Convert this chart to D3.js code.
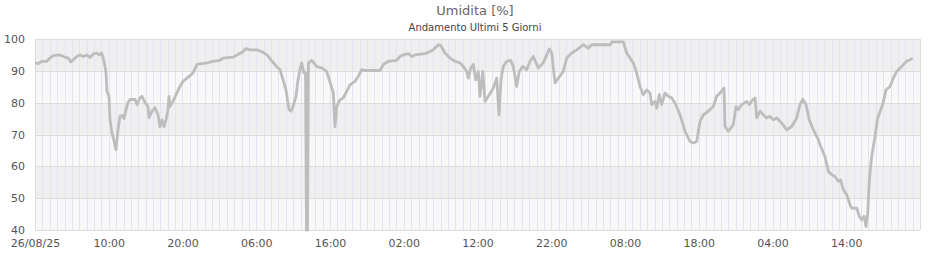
<!DOCTYPE html>
<html><head><meta charset="utf-8">
<script src="https://cdn.jsdelivr.net/npm/d3@7"></script>
<style>body{margin:0;background:#fff}svg{display:block;font-family:"DejaVu Sans",sans-serif}</style>
</head><body><svg id="c" width="940" height="260"></svg>
<script>
const title = "Umidita [%]";
const subtitle = "Andamento Ultimi 5 Giorni";
const startTime = "2025-08-26T00:00:00";
const spanHours = 120;
const yTicks = [40, 50, 60, 70, 80, 90, 100];
// hours since 26/08/25 00:00
const hours = [0,0.45,0.91,1.59,2.03,2.48,3.39,3.84,4.52,4.84,5.19,5.65,6.10,6.55,7.01,7.46,7.91,8.37,8.72,9.04,9.26,9.49,9.63,9.76,10.03,10.17,10.44,10.71,10.98,11.25,11.53,11.80,12.07,12.34,12.61,12.88,13.56,13.83,14.24,14.51,14.92,15.32,15.46,15.86,16.27,16.68,16.95,17.22,17.49,17.76,18.03,18.17,18.31,18.71,19.12,19.66,20.07,20.61,21.42,21.97,22.37,23.32,24.14,25.08,25.49,26.85,27.39,28.2,28.61,29.15,30.1,30.92,31.46,32.14,32.81,33.22,33.63,34.03,34.17,34.44,34.71,34.98,35.39,35.66,35.93,36.16,36.47,36.68,36.81,36.95,37.08,37.52,38.2,38.87,39.55,40.0,40.45,40.68,40.91,41.36,41.8,42.26,42.71,43.39,43.84,44.3,44.75,46.78,47.23,47.9,49.04,49.49,49.94,50.62,51.08,51.53,52.88,53.33,54.01,54.68,55.01,55.59,56.27,56.95,57.63,58.07,58.54,58.75,59.08,59.43,59.76,60.11,60.34,60.71,61.02,61.47,62.14,62.6,62.92,63.19,63.5,63.96,64.5,64.85,65.31,65.67,66.13,66.67,67.12,67.57,68.24,68.92,69.74,70.06,70.51,70.96,71.63,72.09,72.77,73.45,74.35,75.02,75.48,78.0,78.24,79.77,80.23,80.68,81.13,81.59,82.03,82.48,82.94,83.39,83.62,84.07,84.3,84.65,84.97,85.42,85.87,86.33,86.78,87.46,88.14,88.81,89.26,89.72,90.17,90.62,91.29,91.97,92.43,92.88,93.42,93.56,94.01,94.68,95.05,95.36,95.82,96.5,96.85,97.31,97.63,97.86,98.31,98.75,99.21,99.66,100.11,100.57,101.25,101.92,102.6,103.28,103.73,104.1,104.54,104.99,105.53,106.21,106.44,107.12,107.57,108.03,108.47,108.92,109.25,109.6,110.06,110.51,110.74,111.42,111.77,112.09,112.41,112.68,112.91,113.13,113.45,113.9,114.21,114.35,114.94,115.39,115.93,116.38,116.84,117.52,118.19,118.64,119.01];
const humidity = [92.5,92.3,93,93,94,94.8,95,94.5,94,92.8,93.5,94.5,95,94.5,95,94.2,95.3,95.6,95,95.6,94,91.4,89.3,83.5,82,74.6,70.5,68,65.2,71.5,75.7,76,75,77.8,80,81,81,79.4,81.5,82,80,78.8,75.3,77.3,78.4,76.2,72.5,74.6,72.5,74.6,77.8,82,78.8,80.4,82.5,85.1,86.7,87.7,89.3,92,92.2,92.5,93,93.3,94,94.3,95,96,97,96.6,96.6,95.8,95,93,91.2,90.4,87.2,84,82,77.8,77.3,78.8,82,87.2,90.4,92.5,89.3,89.5,40,40,92.5,93.3,91.4,90.9,89.8,86.5,83,72.5,78.8,80.9,81.5,83.5,85.6,86.7,88.3,90.4,90.1,90.1,92,93,93.3,94.5,95,95.4,94.5,95,95.4,95.8,96.6,98.2,98,95.6,94,93,92.5,91.4,89.8,87.7,90.9,92,87.2,89.8,82,89.8,80.4,82,84.6,87.7,76.2,87.2,91.4,93,93.3,91.4,85.1,89.8,91.4,90.4,93,94.5,90.9,92.5,96.9,95.6,86.2,87.7,89.8,94,95.6,96.6,98.2,97.1,98.2,98.2,99.1,99.1,95.6,94,92.5,89.3,85.1,82.5,84,83,79.4,80.4,78.3,82.5,79.4,83,82,81.5,79.9,76.2,71,67.8,67.3,67.8,74.1,76.2,77.3,78.8,82,83,84.6,72.5,71,73.1,78.8,77.8,79.4,80.4,79.4,80.9,81.5,75.2,77.3,76.2,75.2,75.7,74.6,75.2,73.6,71.5,72.5,75.2,79.4,81.1,79.4,74.6,71.5,68.4,66.8,63.1,58.4,57.4,56.8,55.3,55.7,52.7,51.1,48,46.9,46.9,44.3,43.2,44.3,41.1,45.3,55.8,63.1,69.4,74.6,75.7,79.4,84,85.1,87.7,89.8,91.4,93,93.5,94];

const svg = d3.select("#c");
const m = {l: 35, r: 20, t: 39, b: 30};
const W = 940, H = 260;
const t0 = new Date(startTime);
const t1 = new Date(t0.getTime() + spanHours * 3600e3);
const x = d3.scaleTime().domain([t0, t1]).range([m.l, W - m.r]);
const y = d3.scaleLinear().domain([40, 100]).range([H - m.b, m.t]);

const data = hours.map((h, i) => ({t: new Date(t0.getTime() + h * 3600e3), v: humidity[i]}));

// bands
const g = svg.append("g");
for (let i = 0; i < yTicks.length - 1; i++) {
  const lo = yTicks[i], hi = yTicks[i + 1];
  g.append("rect").attr("x", m.l).attr("width", W - m.r - m.l)
    .attr("y", y(hi)).attr("height", y(lo) - y(hi))
    .attr("fill", (i % 2 === 0) ? "#f8f8f9" : "#efefef");
}
// hourly vertical grid
const hrs = d3.timeHour.range(t0, t1);
g.selectAll("line.v").data(hrs.slice(1)).join("line")
  .attr("x1", d => Math.round(x(d)) + 0.5).attr("x2", d => Math.round(x(d)) + 0.5)
  .attr("y1", y(100)).attr("y2", y(40))
  .attr("stroke", "#e3e3f3").attr("stroke-width", 1);
// horizontal grid
g.selectAll("line.h").data(yTicks).join("line")
  .attr("x1", m.l).attr("x2", W - m.r)
  .attr("y1", d => Math.round(y(d)) + 0.5).attr("y2", d => Math.round(y(d)) + 0.5)
  .attr("stroke", "#dcdcdc");
// frame sides
g.append("line").attr("x1", m.l + 0.5).attr("x2", m.l + 0.5).attr("y1", y(100)).attr("y2", y(40)).attr("stroke", "#dcdcdc");
g.append("line").attr("x1", W - m.r + 0.5).attr("x2", W - m.r + 0.5).attr("y1", y(100)).attr("y2", y(40)).attr("stroke", "#dcdcdc");

// line
svg.append("path").datum(data)
  .attr("fill", "none").attr("stroke", "#bdbdbd").attr("stroke-width", 2.8)
  .attr("stroke-linejoin", "round")
  .attr("d", d3.line().x(d => x(d.t)).y(d => y(d.v)));

// y axis labels
const yAxis = d3.axisLeft(y).tickValues(yTicks).tickSize(0).tickPadding(10);
svg.append("g").attr("transform", `translate(${m.l},0)`).call(yAxis)
  .call(s => s.select(".domain").remove())
  .selectAll("text").attr("fill", "#555").style("font-size", "11px").style("font-family", "DejaVu Sans");

// x axis labels every 10 hours
const xTicks = d3.range(0, spanHours, 10).map(h => new Date(t0.getTime() + h * 3600e3));
const fmtH = d3.timeFormat("%H:%M"), fmtD = d3.timeFormat("%d/%m/%y");
const xAxis = d3.axisBottom(x).tickValues(xTicks).tickSize(0).tickPadding(9)
  .tickFormat((d, i) => i === 0 ? fmtD(d) : fmtH(d));
svg.append("g").attr("transform", `translate(0,${H - m.b})`).call(xAxis)
  .call(s => s.select(".domain").remove())
  .selectAll("text").attr("fill", "#555").style("font-size", "11px").style("font-family", "DejaVu Sans");

svg.append("text").attr("x", W / 2 + 5).attr("y", 15).attr("text-anchor", "middle")
  .attr("fill", "#666").style("font-size", "13px").text(title);
svg.append("text").attr("x", W / 2 + 5).attr("y", 31).attr("text-anchor", "middle")
  .attr("fill", "#444").style("font-size", "10px").text(subtitle);
</script></body></html>
